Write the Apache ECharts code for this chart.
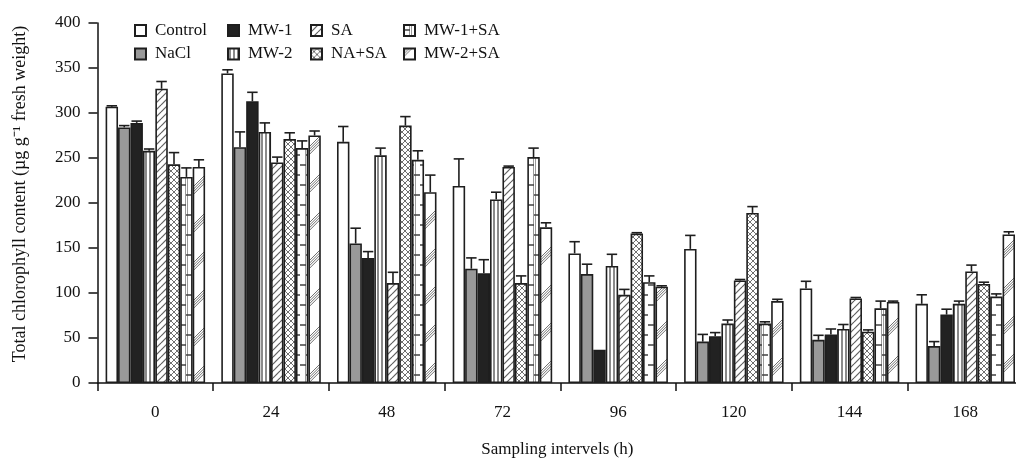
<!DOCTYPE html>
<html>
<head>
<meta charset="utf-8">
<script src="https://cdn.jsdelivr.net/npm/echarts@6/dist/echarts.min.js"></script>
<style>
html,body{margin:0;padding:0;background:#fff;overflow:hidden;width:1016px;height:458px;}
#chart{width:1030px;height:458px;}
</style>
</head>
<body>
<div id="chart"></div>
<script>
// ---- data ----
const categories = ['0', '24', '48', '72', '96', '120', '144', '168'];
const seriesNames = ['Control', 'NaCl', 'MW-1', 'MW-2', 'SA', 'NA+SA', 'MW-1+SA', 'MW-2+SA'];
const control     = [307, 344, 268, 219, 144, 149, 105, 88];
const controlErr  = [1, 4, 17, 30, 13, 15, 8, 10];
const nacl        = [284, 262, 155, 127, 121, 46, 48, 41];
const naclErr     = [2, 17, 17, 12, 11, 8, 5, 5];
const mw1         = [289, 313, 139, 122, 37, 52, 54, 76];
const mw1Err      = [2, 10, 7, 15, 0, 4, 6, 6];
const mw2         = [258, 279, 253, 204, 130, 66, 60, 88];
const mw2Err      = [2, 10, 8, 8, 13, 4, 5, 3];
const sa          = [327, 245, 111, 240, 98, 114, 94, 124];
const saErr       = [8, 6, 12, 1, 6, 1, 1, 7];
const nasa        = [243, 271, 286, 111, 166, 189, 57, 110];
const nasaErr     = [13, 7, 10, 8, 1, 7, 2, 2];
const mw1sa       = [229, 261, 248, 251, 112, 66, 83, 96];
const mw1saErr    = [10, 8, 10, 10, 7, 2, 8, 3];
const mw2sa       = [240, 275, 212, 173, 107, 91, 90, 165];
const mw2saErr    = [8, 5, 19, 5, 1, 2, 1, 3];
const yTicks = { min: 0, max: 400, interval: 50 };

const values = [control, nacl, mw1, mw2, sa, nasa, mw1sa, mw2sa];
const errors = [controlErr, naclErr, mw1Err, mw2Err, saErr, nasaErr, mw1saErr, mw2saErr];

// ---- patterns ----
function makePattern(w, h, draw) {
  const c = document.createElement('canvas');
  c.width = w; c.height = h;
  const ctx = c.getContext('2d');
  ctx.fillStyle = '#ffffff';
  ctx.fillRect(0, 0, w, h);
  draw(ctx, w, h);
  return { image: c, repeat: 'repeat' };
}
const patStripes = makePattern(4, 4, (ctx) => {
  ctx.fillStyle = '#8a8a8a';
  ctx.fillRect(1, 0, 2, 4);
});
const patDiag = makePattern(7, 7, (ctx, w, h) => {
  ctx.strokeStyle = '#606060'; ctx.lineWidth = 1.2;
  for (let k = -1; k <= 1; k++) {
    ctx.beginPath(); ctx.moveTo(0, h + k * h); ctx.lineTo(w, 0 + k * h); ctx.stroke();
  }
});
const patCross = makePattern(6, 6, (ctx, w, h) => {
  ctx.strokeStyle = '#707070'; ctx.lineWidth = 1;
  for (let k = -1; k <= 1; k++) {
    ctx.beginPath(); ctx.moveTo(0, h + k * h); ctx.lineTo(w, k * h); ctx.stroke();
    ctx.beginPath(); ctx.moveTo(0, k * h); ctx.lineTo(w, h + k * h); ctx.stroke();
  }
});
const patGrid = makePattern(12, 20, (ctx) => {
  ctx.fillStyle = '#9a9a9a';
  ctx.fillRect(5, 0, 1, 20);
  ctx.fillRect(7, 0, 1, 20);
  ctx.strokeStyle = '#404040'; ctx.lineWidth = 1.5;
  ctx.beginPath(); ctx.moveTo(0, 5); ctx.lineTo(6, 5); ctx.stroke();
  ctx.beginPath(); ctx.moveTo(6, 15); ctx.lineTo(12, 15); ctx.stroke();
});
const patSparse = makePattern(38, 38, (ctx, w, h) => {
  ctx.strokeStyle = '#707070'; ctx.lineWidth = 1;
  for (let k = -1; k <= 1; k++) {
    for (let j = 0; j < 4; j++) {
      const c = h + k * h + j * 2.6;
      ctx.beginPath(); ctx.moveTo(0, c); ctx.lineTo(w, c - w); ctx.stroke();
    }
  }
});
const fills = ['#ffffff', '#999999', '#222222', patStripes, patDiag, patCross, patGrid, patSparse];

// ---- layout ----
const FONT = 'Liberation Serif';
const CAT_GAP = 0.14;
const gridBox = { left: 97.5, top: 23, width: 925.6, height: 360, outerBoundsMode: 'none', containLabel: false };

const barSeries = seriesNames.map((name, i) => ({
  name: name,
  type: 'bar',
  data: values[i],
  barGap: '0%',
  barCategoryGap: (CAT_GAP * 100) + '%',
  itemStyle: { color: fills[i], borderColor: '#1e1e1e', borderWidth: 1.6 },
  emphasis: { disabled: true },
  z: 2
}));

const errData = [];
values.forEach((arr, s) => {
  arr.forEach((v, c) => {
    errData.push([c, v, errors[s][c], s]);
  });
});

const errSeries = {
  type: 'custom',
  name: 'err',
  z: 5,
  silent: true,
  encode: { x: 0, y: 1 },
  data: errData,
  renderItem: function (params, api) {
    const c = api.value(0), v = api.value(1), e = api.value(2), s = api.value(3);
    if (e <= 0) return null;
    const base = api.coord([c, v]);
    const top = api.coord([c, v + e]);
    const band = api.size([1, 0])[0];
    const bw = band * (1 - CAT_GAP) / seriesNames.length;
    const x = base[0] + (s - (seriesNames.length - 1) / 2) * bw;
    const half = bw * 0.42;
    return {
      type: 'group',
      children: [
        { type: 'line', shape: { x1: x, y1: base[1], x2: x, y2: top[1] }, style: { stroke: '#1e1e1e', lineWidth: 1.6 } },
        { type: 'line', shape: { x1: x - half, y1: top[1], x2: x + half, y2: top[1] }, style: { stroke: '#1e1e1e', lineWidth: 1.6 } }
      ]
    };
  }
};

// legend: 4 columns x 2 rows (column-major)
const legendCols = [134, 227, 310, 403];
const legendRows = [22, 45.5];
const legends = seriesNames.map((name, i) => ({
  data: [name],
  left: legendCols[Math.floor(i / 2)],
  top: legendRows[i % 2],
  padding: 0,
  icon: 'rect',
  itemWidth: 11,
  itemHeight: 11,
  selectedMode: false,
  textStyle: { fontFamily: FONT, fontSize: 17, color: '#111', padding: [0, 0, 0, 4] }
}));

const chart = echarts.init(document.getElementById('chart'), null, { renderer: 'canvas' });
chart.setOption({
  animation: false,
  backgroundColor: '#ffffff',
  legend: legends,
  grid: gridBox,
  xAxis: {
    type: 'category',
    data: categories,
    name: 'Sampling intervels (h)',
    nameLocation: 'middle',
    nameGap: 58,
    nameTextStyle: { fontFamily: FONT, fontSize: 17, color: '#111', padding: [0, 6, 0, 0] },
    axisLine: { lineStyle: { color: '#111', width: 1.5 } },
    axisTick: { show: true, interval: 0, length: 8, lineStyle: { color: '#111', width: 1.5 } },
    axisLabel: { fontFamily: FONT, fontSize: 17, color: '#111', margin: 21, interval: 0 },
    splitLine: { show: false }
  },
  yAxis: {
    type: 'value',
    min: yTicks.min,
    max: yTicks.max,
    interval: yTicks.interval,
    name: 'Total chlorophyll content (µg g⁻¹ fresh weight)',
    nameLocation: 'middle',
    nameGap: 68,
    nameTextStyle: { fontFamily: FONT, fontSize: 18, color: '#111', padding: [0, 0, 0, 18] },
    axisLine: { show: true, lineStyle: { color: '#111', width: 1.5 } },
    axisTick: { show: true, length: 9, lineStyle: { color: '#111', width: 1.5 } },
    axisLabel: { fontFamily: FONT, fontSize: 17, color: '#111', margin: 17 },
    splitLine: { show: false }
  },
  series: barSeries.concat([errSeries])
});
</script>
</body>
</html>
